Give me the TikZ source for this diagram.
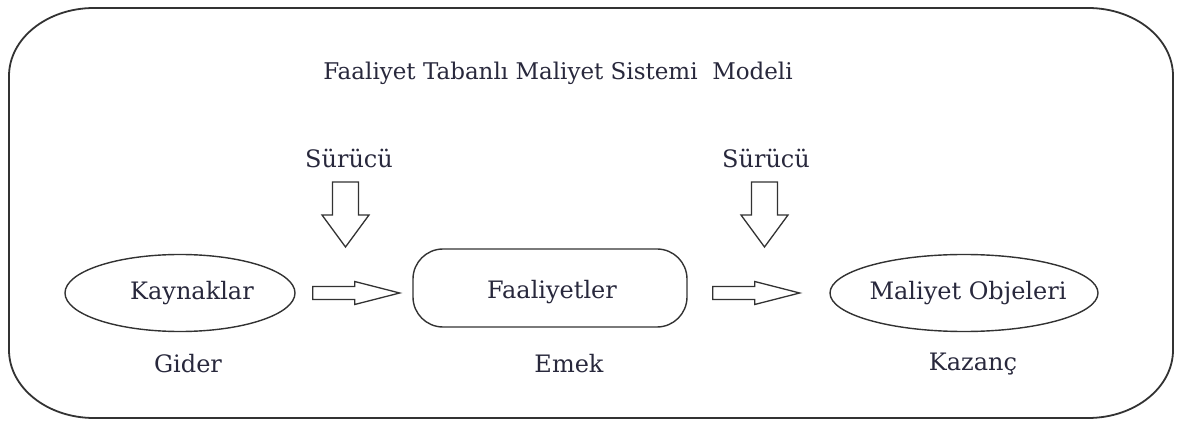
\documentclass[tikz,border=0pt]{standalone}
\usepackage{fontspec}
\setmainfont{DejaVu Serif}
\usetikzlibrary{shapes.geometric,calc}
\definecolor{txt}{RGB}{40,40,60}
\definecolor{ln}{RGB}{50,50,50}
\tikzset{
  lbl/.style={text=txt,font=\fontsize{24}{28}\selectfont,inner sep=0pt},
  ttl/.style={lbl,font=\fontsize{23}{27}\selectfont},
  oval/.style={draw=ln,line width=1.4pt,ellipse,inner sep=0pt},
  roundbox/.style={draw=ln,line width=1.4pt,rounded corners=30pt,inner sep=0pt},
  hollow/.style={draw=ln,line width=1.3pt,fill=white,line join=miter},
}
\begin{document}
\begin{tikzpicture}[x=1pt,y=1pt]
\useasboundingbox (0,0) rectangle (1180,423);
% outer frame
\draw[draw=ln,line width=1.8pt]
  (94,415) -- (1088,415)
  arc[start angle=90,end angle=0,x radius=85,y radius=68] -- (1173,73)
  arc[start angle=0,end angle=-90,x radius=85,y radius=68] -- (94,5)
  arc[start angle=270,end angle=180,x radius=85,y radius=68] -- (9,347)
  arc[start angle=180,end angle=90,x radius=85,y radius=68] -- cycle;
% title
\node[ttl] (title) at (558,350) {Faaliyet Tabanlı Maliyet Sistemi\ \ Modeli};
% main shapes
\node[oval,minimum width=230pt,minimum height=77pt] (kay) at (180,130) {};
\node[lbl] (kaytxt) at (192,130) {Kaynaklar};
\node[roundbox,minimum width=274pt,minimum height=78pt] (faa) at (550,135) {};
\node[lbl] (faatxt) at (552,131) {Faaliyetler};
\node[oval,minimum width=268pt,minimum height=77pt] (mal) at (964,130) {};
\node[lbl] (maltxt) at (968,130) {Maliyet Objeleri};
% drivers
\node[lbl] (s1) at (349,265) {Sürücü};
\node[lbl] (s2) at (766,265) {Sürücü};
% bottom labels
\node[lbl] (gider) at (188,59) {Gider};
\node[lbl] (emek) at (569,59) {Emek};
\node[lbl] (kazanc) at (973,59) {Kazanç};
% down hollow arrows (top at 241, head start 208, tip 176)
\coordinate (d1) at (345.5,241);
\coordinate (d2) at (764.5,241);
\foreach \c in {d1,d2}{
  \draw[hollow] ($(\c)+(-13,0)$) -- ($(\c)+(13,0)$) -- ($(\c)+(13,-33)$) -- ($(\c)+(23.5,-33)$)
     -- ($(\c)+(0,-65)$) -- ($(\c)+(-23.5,-33)$) -- ($(\c)+(-13,-33)$) -- cycle;
}
% horizontal hollow arrows
\coordinate (h1) at ($(kay.east)+(17,0)$);
\coordinate (h2) at ($(faa.east)+(25,-5)$);
\foreach \c in {h1,h2}{
  \draw[hollow] ($(\c)+(0,6.5)$) -- ($(\c)+(42,6.5)$) -- ($(\c)+(42,11.5)$) -- ($(\c)+(87,0)$)
     -- ($(\c)+(42,-11.5)$) -- ($(\c)+(42,-6.5)$) -- ($(\c)+(0,-6.5)$) -- cycle;
}
\end{tikzpicture}
\end{document}
